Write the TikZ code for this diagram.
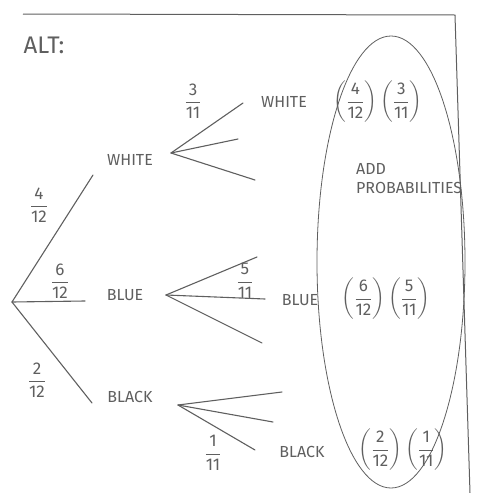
\documentclass[tikz,border=0pt]{standalone}
\usepackage{amsmath}
\usepackage{fontspec}
\setmainfont{Fira Sans}
\definecolor{pencil}{RGB}{95,95,95}
\newcommand{\hfrac}[2]{$\dfrac{\mbox{#1}}{\mbox{#2}}$}
\newcommand{\hprod}[4]{$\left(\dfrac{\mbox{#1}}{\mbox{#2}}\right)\left(\dfrac{\mbox{#3}}{\mbox{#4}}\right)$}

\begin{document}
\begin{tikzpicture}[x=1pt, y=-1pt,
  txt/.style={text=pencil, font=\fontsize{16}{19}\selectfont, inner sep=1pt},
  frac/.style={text=pencil, font=\fontsize{17}{20}\selectfont, inner sep=0pt},
  branch/.style={draw=pencil, line width=1.1pt, line cap=round},
  frame/.style={draw=pencil, line width=1pt},
]
\useasboundingbox (0,0) rectangle (482,493);

% === FRAME AND LOOP ===
\draw[frame] (23,14) -- (455,15) -- (470,493);
\draw[frame, line width=0.8pt] (391,262) ellipse [x radius=74, y radius=226];

\node[txt, font=\fontsize{24}{28}\selectfont] (alt) at (44,45) {ALT:};

% === FIRST DRAW ===
\coordinate (root) at (12,302);
\coordinate (wend) at (93,175);
\coordinate (uend) at (85,301);
\coordinate (kend) at (92,403);

\node[txt] (white) at (130,160) {WHITE};
\node[txt] (blue)  at (125,295) {BLUE};
\node[txt] (black) at (130,397) {BLACK};

\draw[branch] (root) -- (wend);
\draw[branch] (root) -- (uend);
\draw[branch] (root) -- (kend);

\node[frac] (pw) at (39,205) {\hfrac{4}{12}};
\node[frac] (pu) at (60,281) {\hfrac{6}{12}};
\node[frac] (pk) at (37,380) {\hfrac{2}{12}};

% === SECOND DRAW ===
\coordinate (wv) at (171,153);
\coordinate (uv) at (166,295);
\coordinate (kv) at (178,405);

\coordinate (wa) at (243,103);
\coordinate (wb) at (238,139);
\coordinate (wc) at (255,180);
\coordinate (ua) at (257,257);
\coordinate (ub) at (265,299);
\coordinate (uc) at (262,343);
\coordinate (ka) at (282,392);
\coordinate (kb) at (273,422);
\coordinate (kc) at (255,450);

\foreach \v/\e in {wv/wa, wv/wb, wv/wc, uv/ua, uv/ub, uv/uc, kv/ka, kv/kb, kv/kc}
  \draw[branch] (\v) -- (\e);

\node[frac] (pww) at (193,101) {\hfrac{3}{11}};
\node[frac] (puu) at (245,281) {\hfrac{5}{11}};
\node[frac] (pkk) at (213,453) {\hfrac{1}{11}};

\node[txt] (white2) at (284,102) {WHITE};
\node[txt] (blue2)  at (300,300) {BLUE};
\node[txt] (black2) at (302,452) {BLACK};

% === PRODUCTS ===
\node[frac] (ww) at (378,102) {\hprod{4}{12}{3}{11}};
\node[frac] (uu) at (386,299) {\hprod{6}{12}{5}{11}};
\node[frac] (kk) at (403,450) {\hprod{2}{12}{1}{11}};

\node[txt, align=left, anchor=north west] (add) at (355,162) {ADD\\PROBABILITIES};
\end{tikzpicture}
\end{document}
